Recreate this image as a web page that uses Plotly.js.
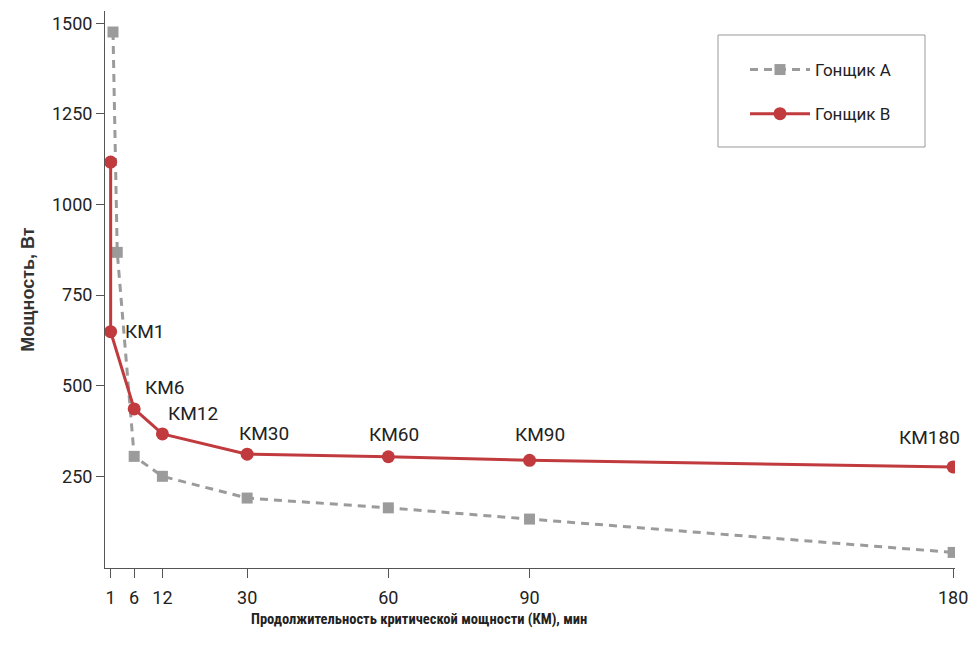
<!DOCTYPE html>
<html>
<head>
<meta charset="utf-8">
<script src="https://cdn.plot.ly/plotly-3.0.1.min.js"></script>
<style>html,body{margin:0;padding:0;background:#fff;}#chart{width:971px;height:656px;}</style>
</head>
<body>
<div id="chart"></div>
<script>
// Data
var xTicks = [1, 6, 12, 30, 60, 90, 180];
var yTicks = [250, 500, 750, 1000, 1250, 1500];
var riderA_x = [1.5, 2.4, 6, 12, 30, 60, 90, 180];
var riderA_y = [1476, 868, 305, 250, 190, 163, 132, 40];
var riderB_x = [1, 1, 6, 12, 30, 60, 90, 180];
var riderB_y = [1117, 649, 436, 367, 311, 304, 294, 276];
var labelsB = ['', 'КМ1', 'КМ6', 'КМ12', 'КМ30', 'КМ60', 'КМ90', 'КМ180'];
var labelShiftX = [0, 34, 30, 31, 17, 6, 10, -24];
var labelShiftY = [0, 0, 21, 20, 21, 22, 26, 29];
var seriesNames = ['Гонщик А', 'Гонщик В'];

var red = '#c13a3e';
var gray = '#9b9b9b';
var bodyFont = 'Roboto, "Liberation Sans", sans-serif';
var boldFont = '"Liberation Sans", Arial, sans-serif';
var narrowFont = '"Roboto Condensed", "Liberation Sans", sans-serif';

var traces = [
  {
    x: riderA_x, y: riderA_y, name: seriesNames[0], type: 'scatter', mode: 'lines+markers',
    legendgroup: 'a',
    line: {color: gray, width: 3, dash: '8px,6px'},
    marker: {symbol: 'square', size: 11, color: gray}
  },
  {
    x: riderB_x, y: riderB_y, name: seriesNames[1], type: 'scatter', mode: 'lines+markers',
    legendgroup: 'b',
    line: {color: red, width: 3},
    marker: {symbol: 'circle', size: 13, color: red}
  }
];

var annotations = [];
for (var i = 0; i < labelsB.length; i++) {
  if (!labelsB[i]) continue;
  annotations.push({
    x: riderB_x[i], y: riderB_y[i], xref: 'x', yref: 'y', text: labelsB[i],
    showarrow: false, xshift: labelShiftX[i], yshift: labelShiftY[i],
    font: {family: bodyFont, size: 19, color: '#222'}
  });
}
annotations.push({
  xref: 'paper', yref: 'paper', x: (419 - 105) / 850, y: -0.092, xanchor: 'center', yanchor: 'middle',
  text: '<b>Продолжительность критической мощности (КМ), мин</b>', showarrow: false,
  font: {family: narrowFont, size: 14.5, color: '#222'}
});

var layout = {
  width: 971, height: 656,
  margin: {l: 105, r: 16, t: 11, b: 88},
  paper_bgcolor: '#fff', plot_bgcolor: '#fff',
  showlegend: true,
  legend: {
    x: (745 - 105) / 850, y: 1 - (52 - 11) / 557, xanchor: 'left', yanchor: 'top',
    bgcolor: 'rgba(0,0,0,0)', borderwidth: 0,
    font: {family: bodyFont, size: 17, color: '#222'},
    traceorder: 'grouped', tracegroupgap: 19, itemwidth: 60
  },
  xaxis: {
    range: [-0.2, 180.4], tickvals: xTicks, ticktext: xTicks.map(String),
    showgrid: false, zeroline: false, showline: true, linecolor: '#555', linewidth: 1,
    ticks: 'outside', ticklen: 9, tickcolor: '#555', tickwidth: 1, ticklabelstandoff: 4,
    tickfont: {family: bodyFont, size: 18, color: '#222'}
  },
  yaxis: {
    range: [-3, 1534], tickvals: yTicks, ticktext: yTicks.map(String),
    showgrid: false, zeroline: false, showline: true, linecolor: '#555', linewidth: 1,
    ticks: 'outside', ticklen: 8, tickcolor: '#555', tickwidth: 1,
    tickfont: {family: bodyFont, size: 18, color: '#222'},
    title: {text: '<b>Мощность, Вт</b>', font: {family: boldFont, size: 18, color: '#333'}, standoff: 12}
  },
  shapes: [{
    type: 'rect', xref: 'paper', yref: 'paper',
    x0: (718 - 105) / 850, x1: (925 - 105) / 850,
    y0: 1 - (147 - 11) / 557, y1: 1 - (35 - 11) / 557,
    line: {color: '#999', width: 1}, fillcolor: 'rgba(0,0,0,0)'
  }],
  annotations: annotations
};

Plotly.newPlot('chart', traces, layout, {displayModeBar: false, responsive: false});
</script>
</body>
</html>
